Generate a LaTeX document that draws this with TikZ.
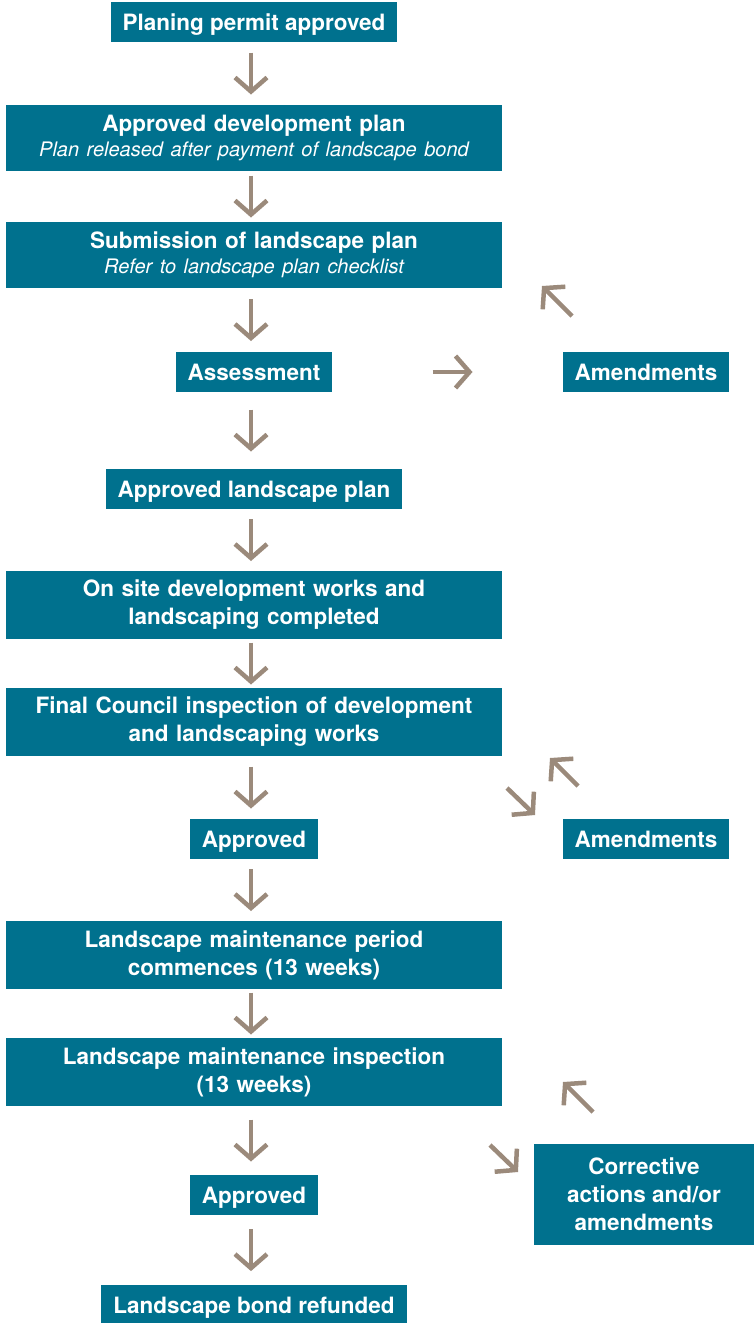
\documentclass[tikz,border=0pt]{standalone}
\usepackage{fontspec}
\setmainfont{TeX Gyre Heros}
\usetikzlibrary{arrows.meta,calc}
\definecolor{boxteal}{HTML}{00718E}
\definecolor{arrowtaupe}{HTML}{9B8A7B}
\newcommand\subnote[1]{{\fontsize{20}{25}\selectfont\mdseries\itshape #1}}
\tikzset{
  stage/.style={fill=boxteal,text=white,font=\fontsize{22.5}{28}\selectfont\bfseries,
    align=center,inner xsep=12pt,inner ysep=0pt,minimum height=40pt,text depth=0pt},
  widestage/.style={stage,text width=472pt,text depth=},
  flow/.style={draw=arrowtaupe,line width=4.5pt,-{Straight Barb[length=14pt,width=32pt]}}
}
\begin{document}
\begin{tikzpicture}[x=1pt,y=-1pt]
\useasboundingbox (0,0) rectangle (754,1323);
% main column
\node[stage] (permit) at (254,22) {Planing permit approved};
\node[widestage,minimum height=66pt] (devplan) at (254,138) {Approved development plan\\[-3pt]\subnote{Plan released after payment of landscape bond}};
\node[widestage,minimum height=66pt] (submit) at (254,255) {Submission of landscape plan\\[-3pt]\subnote{Refer to landscape plan checklist}};
\node[stage] (assess) at (254,372) {Assessment};
\node[stage] (lsplan) at (254,489) {Approved landscape plan};
\node[widestage,minimum height=68pt] (works) at (254,605) {On site development works and\\landscaping completed};
\node[widestage,minimum height=68pt] (final) at (254,722) {Final Council inspection of development\\and landscaping works};
\node[stage] (okA) at (254,839) {Approved};
\node[widestage,minimum height=68pt] (period) at (254,955) {Landscape maintenance period\\commences (13 weeks)};
\node[widestage,minimum height=68pt] (inspect) at (254,1072) {Landscape maintenance inspection\\(13 weeks)};
\node[stage] (okB) at (254,1195) {Approved};
\node[stage,anchor=north] (refund) at (254,1285) {Landscape bond refunded};
% side column
\node[stage] (amendA) at (646,372) {Amendments};
\node[stage] (amendB) at (646,839) {Amendments};
\node[stage,minimum width=220pt,minimum height=101pt] (corrective) at (644,1194) {Corrective\\actions and/or\\amendments};
% downward arrows
\foreach \a/\b in {permit/devplan,devplan/submit,submit/assess,assess/lsplan,lsplan/works,
  works/final,final/okA,okA/period,period/inspect,inspect/okB,okB/refund}{
  \coordinate (m) at ($(\a.south)!.5!(\b.north)$);
  \draw[flow] ([xshift=-3pt,yshift=21pt]m) -- ([xshift=-3pt,yshift=-21pt]m);
}
% side arrows
\coordinate (h) at ($(assess.east)!.5!(amendA.west)$);
\draw[flow] ([xshift=-15pt]h) -- ([xshift=25pt]h);
\coordinate (backA) at (572,316);  \coordinate (backA') at (542,286);
\coordinate (outB) at (507,788);   \coordinate (outB') at (535,815);
\coordinate (backB) at (578,786);  \coordinate (backB') at (550,758);
\coordinate (outC) at (490,1145);  \coordinate (outC') at (518,1172);
\coordinate (backC) at (593,1112); \coordinate (backC') at (563,1082);
\foreach \p in {backA,outB,backB,outC,backC}{\draw[flow] (\p) -- (\p');}
\end{tikzpicture}
\end{document}
